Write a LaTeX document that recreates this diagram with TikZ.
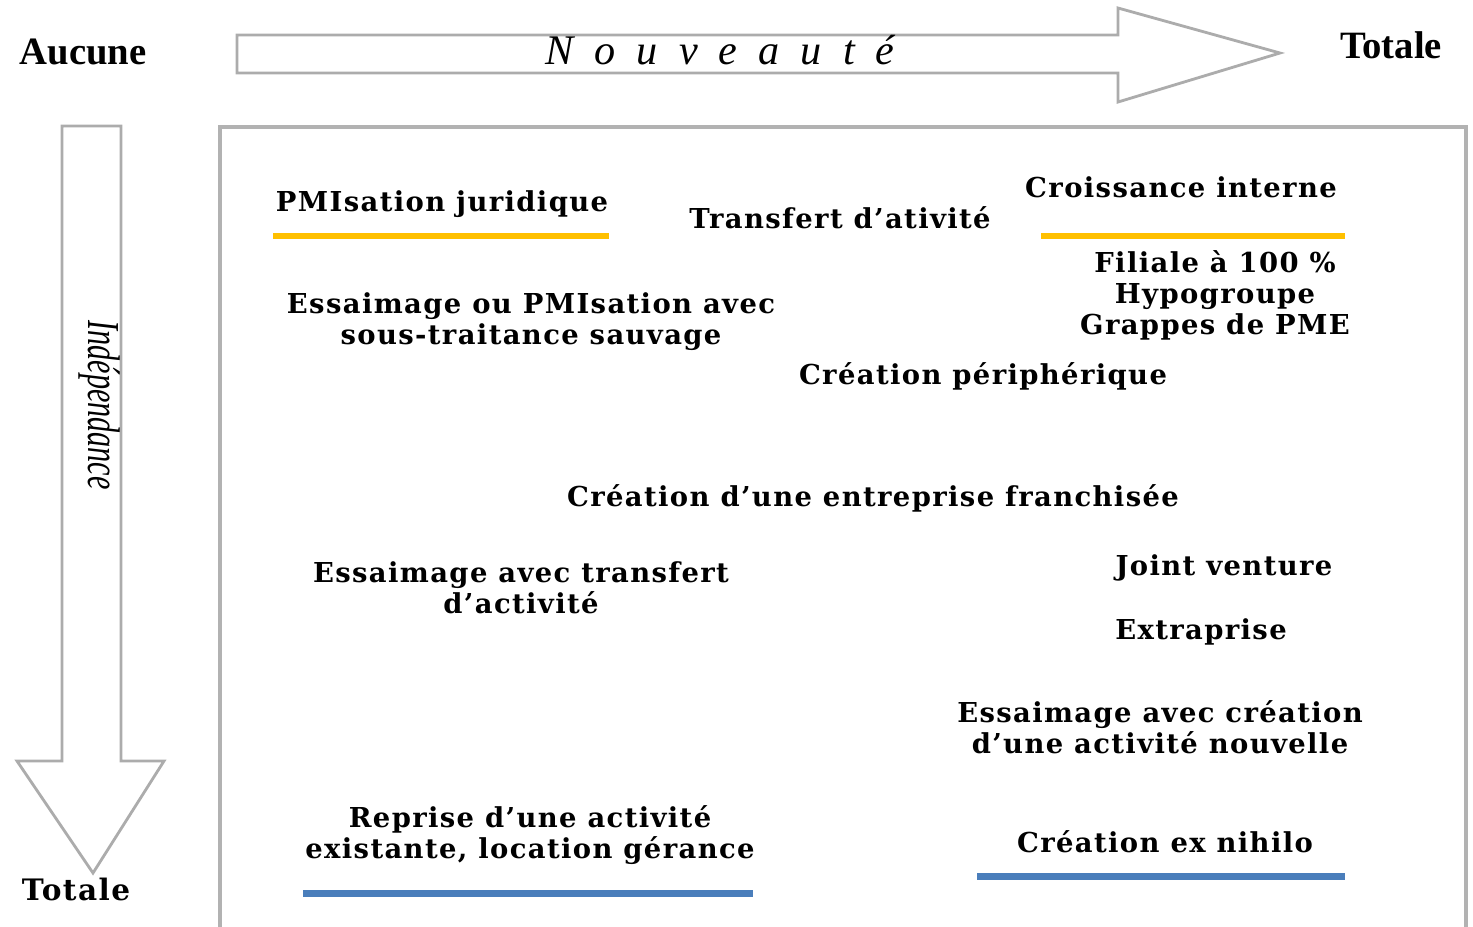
\documentclass[tikz,border=0pt]{standalone}
\usepackage{fontspec}
\setmainfont{DejaVu Serif}
\newfontfamily\lblfont{DejaVu Serif}[LetterSpace=5]
\newfontfamily\timesf{Liberation Serif}
\usepackage{tikz}
\usetikzlibrary{positioning}

\begin{document}
\begin{tikzpicture}[x=0.01cm, y=-0.01cm,
	lbl/.style={inner sep=0pt, align=center, font=\lblfont\bfseries\fontsize{7.8}{8.8}\selectfont},
	ends/.style={inner sep=0pt, font=\timesf\bfseries\fontsize{11}{12}\selectfont},
	bigarrow/.style={draw=gray!65, line width=0.8pt, fill=white},
	orangebar/.style={draw={rgb,255:red,255;green,192;blue,0}, line width=1.7pt},
	bluebar/.style={draw={rgb,255:red,74;green,126;blue,187}, line width=2pt}]
\useasboundingbox (0,0) rectangle (1473,926);
\draw[gray!60, line width=0.9pt] (220,940) -- (220,127) -- (1466,127) -- (1466,940);
\draw[bigarrow] (237,35) -- (1118,35) -- (1118,8) -- (1280,53) -- (1118,102) -- (1118,73) -- (237,73) -- cycle;
\draw[bigarrow] (62,126) -- (121,126) -- (121,761) -- (164,761) -- (93,873) -- (17,761) -- (62,761) -- cycle;
\node[ends] (aucune) at (83,52) {Aucune};
\node[ends] (totalh) at (1391,45) {Totale};
\node[lbl, font=\lblfont\bfseries\fontsize{8.4}{10}\selectfont] (totalv) at (76,889) {Totale};
\node[inner sep=0pt, font=\timesf\itshape\fontsize{12}{13}\selectfont] (nouv) at (720,50) {\spaceskip=0.5em\relax N o u v e a u t é};
\node[inner sep=0pt, rotate=-90, font=\timesf\itshape\fontsize{13}{14}\selectfont] (indep) at (100,405) {\scalebox{0.66}[1]{Indépendance}};
\node[lbl] (pmij) at (442,204) {PMIsation juridique};
\node[lbl] (transf) at (840,218) {Transfert d’ativité};
\node[lbl] (croiss) at (1181,187) {Croissance interne};
\node[lbl] (filiale) at (1215,295) {Filiale à 100 \%\\Hypogroupe\\Grappes de PME};
\node[lbl] (essou) at (531,322) {Essaimage ou PMIsation avec\\sous-traitance sauvage};
\node[lbl] (periph) at (983,376) {Création périphérique};
\node[lbl] (franch) at (873,498) {Création d’une entreprise franchisée};
\node[lbl] (esstr) at (521,588) {Essaimage avec transfert\\d’activité};
\node[lbl] (joint) at (1224,568) {Joint venture};
\node[lbl] (extra) at (1201,632) {Extraprise};
\node[lbl] (esscr) at (1160,727) {Essaimage avec création\\d’une activité nouvelle};
\node[lbl] (repr) at (530,835) {Reprise d’une activité\\existante, location gérance};
\node[lbl] (nihilo) at (1165,842) {Création ex nihilo};
\coordinate (pmijL) at (273,236); \coordinate (pmijR) at (609,236);
\coordinate (croissL) at (1041,236); \coordinate (croissR) at (1345,236);
\coordinate (reprL) at (303,893); \coordinate (reprR) at (753,893);
\coordinate (nihiloL) at (977,876); \coordinate (nihiloR) at (1345,876);
\draw[orangebar] (pmijL) -- (pmijR);
\draw[orangebar] (croissL) -- (croissR);
\draw[bluebar] (reprL) -- (reprR);
\draw[bluebar] (nihiloL) -- (nihiloR);
\end{tikzpicture}
\end{document}
